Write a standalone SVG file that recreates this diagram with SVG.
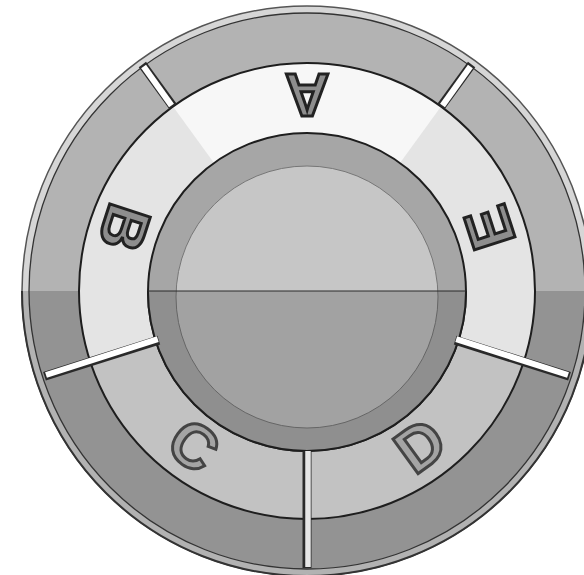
<svg xmlns="http://www.w3.org/2000/svg" width="584" height="575" viewBox="0 0 584 575">
<style>
.lbl{font-family:"Liberation Sans",Arial,sans-serif;font-weight:bold;font-size:62px;fill:#8e8e8e;stroke:#222;stroke-width:3;text-anchor:middle}
.lbl2{fill:#a4a4a4;stroke:#444}
.edge{fill:none;stroke:#1e1e1e;stroke-width:2}
.divd{stroke:#2a2a2a;stroke-width:9;stroke-linecap:butt}
.divw{stroke:#ffffff;stroke-width:6;stroke-linecap:butt}
</style>
<defs>
<clipPath id="lower"><rect x="0" y="291" width="584" height="300"/></clipPath>
</defs>
<rect width="584" height="575" fill="#ffffff"/>
<g id="outer-ring">
<circle cx="307" cy="291" r="285" fill="#d6d6d6" stroke="#555" stroke-width="1.5"/>
<circle cx="307" cy="291" r="278" fill="#b3b3b3" stroke="#333" stroke-width="1.3"/>
<g clip-path="url(#lower)">
<circle cx="307" cy="291" r="285" fill="#b2b2b2" stroke="#333" stroke-width="2"/>
<circle cx="307" cy="291" r="278" fill="#939393" stroke="#333" stroke-width="1.3"/>
</g>
</g>
<g id="middle-ring">
<circle cx="307" cy="291" r="228" fill="#e4e4e4"/>
</g>
<g id="sector-A">
<path d="M307,291 L173.0,106.5 A228,228 0 0 1 441.0,106.5 Z" fill="#f7f7f7"/>
<text class="lbl" transform="translate(307,96) rotate(180)" y="22">A</text>
</g>
<g id="sector-CD">
<path d="M307,291 L523.8,361.5 A228,228 0 0 1 90.2,361.5 Z" fill="#c2c2c2"/>
</g>
<g id="ring-edge">
<circle class="edge" cx="307" cy="291" r="228"/>
</g>
<g id="core">
<circle cx="307" cy="292" r="159" fill="#a6a6a6" stroke="#1e1e1e" stroke-width="2"/>
<circle cx="307" cy="297" r="131" fill="#c6c6c6" stroke="#777" stroke-width="1"/>
<g clip-path="url(#lower)">
<circle cx="307" cy="292" r="159" fill="#8f8f8f" stroke="#1e1e1e" stroke-width="2"/>
<circle cx="307" cy="297" r="131" fill="#a2a2a2" stroke="#666" stroke-width="1"/>
</g>
<line x1="148" y1="291" x2="466" y2="291" stroke="#2a2a2a" stroke-width="1.2"/>
</g>
<g id="dividers">
<line class="divd" x1="173.0" y1="106.5" x2="142.4" y2="64.5"/>
<line class="divw" x1="171.5" y1="105.5" x2="143.6" y2="66.5"/>
<line class="divd" x1="441.0" y1="106.5" x2="471.6" y2="64.5"/>
<line class="divw" x1="442.5" y1="105.5" x2="470.4" y2="66.5"/>
<line class="divd" x1="158.8" y1="340.1" x2="44.5" y2="376.3"/>
<line class="divw" x1="157.8" y1="339.1" x2="46.0" y2="375.0"/>
<line class="divd" x1="455.2" y1="340.1" x2="569.5" y2="376.3"/>
<line class="divw" x1="456.2" y1="339.1" x2="568.0" y2="375.0"/>
<line class="divd" x1="307" y1="451" x2="307" y2="568" stroke-width="8"/>
<line x1="308" y1="451" x2="308" y2="567" stroke="#e6e6e6" stroke-width="5.5"/>
</g>
<g id="sector-B">
<text class="lbl" transform="translate(125,228) rotate(108)" y="22">B</text>
</g>
<g id="sector-E">
<text class="lbl" transform="translate(489,228) rotate(-108)" y="22">E</text>
</g>
<g id="sector-C">
<text class="lbl lbl2" transform="translate(194,445) rotate(36)" y="22">C</text>
</g>
<g id="sector-D">
<text class="lbl lbl2" transform="translate(420,445) rotate(-36)" y="22">D</text>
</g>
</svg>
